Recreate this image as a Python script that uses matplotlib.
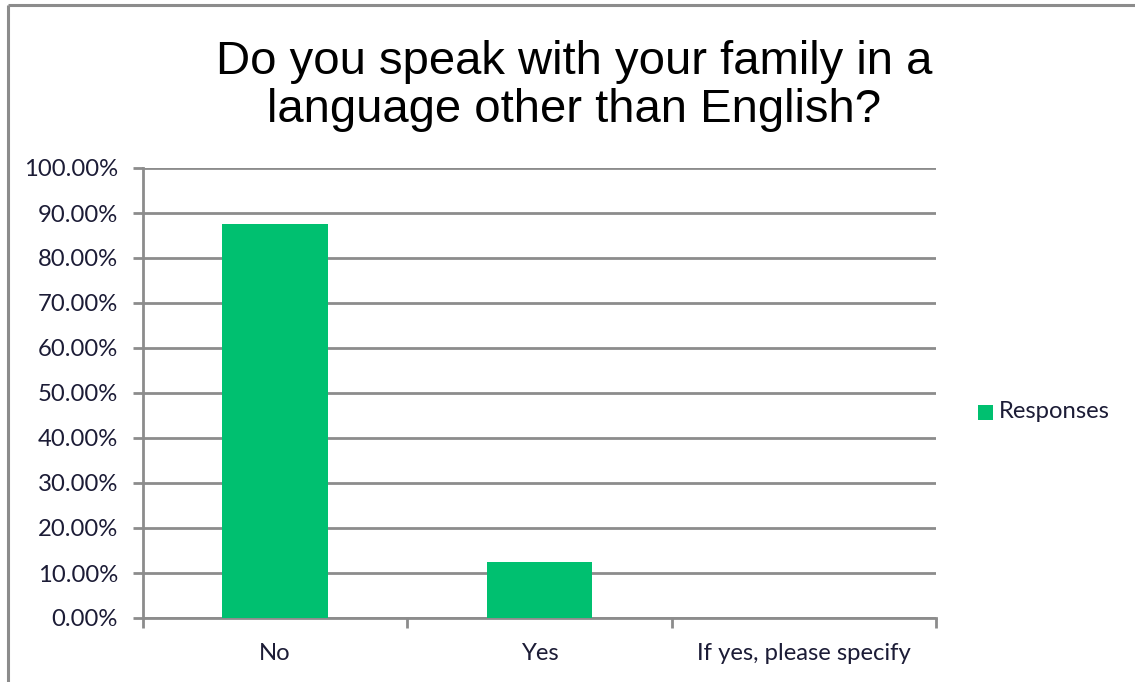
import matplotlib
matplotlib.use("Agg")
import matplotlib.pyplot as plt
from matplotlib.patches import Rectangle
from matplotlib.lines import Line2D
from matplotlib.ticker import FuncFormatter, MultipleLocator

# Survey responses (share of respondents)
categories = ["No", "Yes", "If yes, please specify"]
responses = [0.875, 0.125, 0.0]
series_name = "Responses"
title = "Do you speak with your family in a\nlanguage other than English?"

BAR = "#00C070"
GRID = "#8c8c8c"
TEXT = "#1c1c36"
TICK_FONT = ["Lato", "DejaVu Sans"]
FS = 17.2

W, H = 1135, 682
fig = plt.figure(figsize=(W / 100, H / 100), dpi=100)
fig.patch.set_facecolor("white")

# outer chart-area frame (top and left edges visible)
fig.add_artist(Line2D([7.5 / W, 7.5 / W], [0, 1 - 5 / H], transform=fig.transFigure,
                      color=GRID, lw=2.2, solid_capstyle="butt"))
fig.add_artist(Line2D([7.5 / W, 1], [1 - 5 / H, 1 - 5 / H], transform=fig.transFigure,
                      color=GRID, lw=2.2, solid_capstyle="butt"))

left, right, top, bottom = 143, 936, 168, 618
ax = fig.add_axes([left / W, 1 - bottom / H, (right - left) / W, (bottom - top) / H])

x = list(range(len(categories)))
ax.bar(x, responses, width=0.40, color=BAR, zorder=3)

ax.set_xlim(-0.5, len(categories) - 0.5)
ax.set_ylim(0, 1.0)
ax.yaxis.set_major_locator(MultipleLocator(0.1))
ax.yaxis.set_major_formatter(FuncFormatter(lambda v, _: f"{v * 100:.2f}%"))
ax.yaxis.grid(True, color=GRID, lw=2, zorder=0)
ax.set_axisbelow(True)

ax.set_xticks(x)
ax.set_xticklabels(categories)
ax.set_xticks([i - 0.5 for i in range(len(categories) + 1)], minor=True)
ax.tick_params(axis="x", which="major", length=0, pad=18, labelsize=FS, labelcolor=TEXT)
ax.tick_params(axis="x", which="minor", length=7, width=2, color=GRID, direction="out")
ax.tick_params(axis="y", length=7, width=2, color=GRID, direction="out", pad=11,
               labelsize=FS, labelcolor=TEXT)
for lab in ax.get_xticklabels() + ax.get_yticklabels():
    lab.set_family(TICK_FONT)

for s in ("top", "right"):
    ax.spines[s].set_visible(False)
for s in ("left", "bottom"):
    ax.spines[s].set_color(GRID)
    ax.spines[s].set_linewidth(2)

fig.text(574 / W, 1 - 86 / H, title, ha="center", va="center", fontsize=34,
         family=["Liberation Sans", "DejaVu Sans"], color="black", linespacing=1.1)

# legend entry
fig.add_artist(Rectangle((978 / W, 1 - 420 / H), 15 / W, 15 / H, transform=fig.transFigure,
                         facecolor=BAR, edgecolor="none"))
fig.text(999 / W, 1 - 412 / H, series_name, ha="left", va="center", fontsize=FS,
         family=TICK_FONT, color=TEXT)

fig.savefig("out.png", dpi=100, facecolor="white")
